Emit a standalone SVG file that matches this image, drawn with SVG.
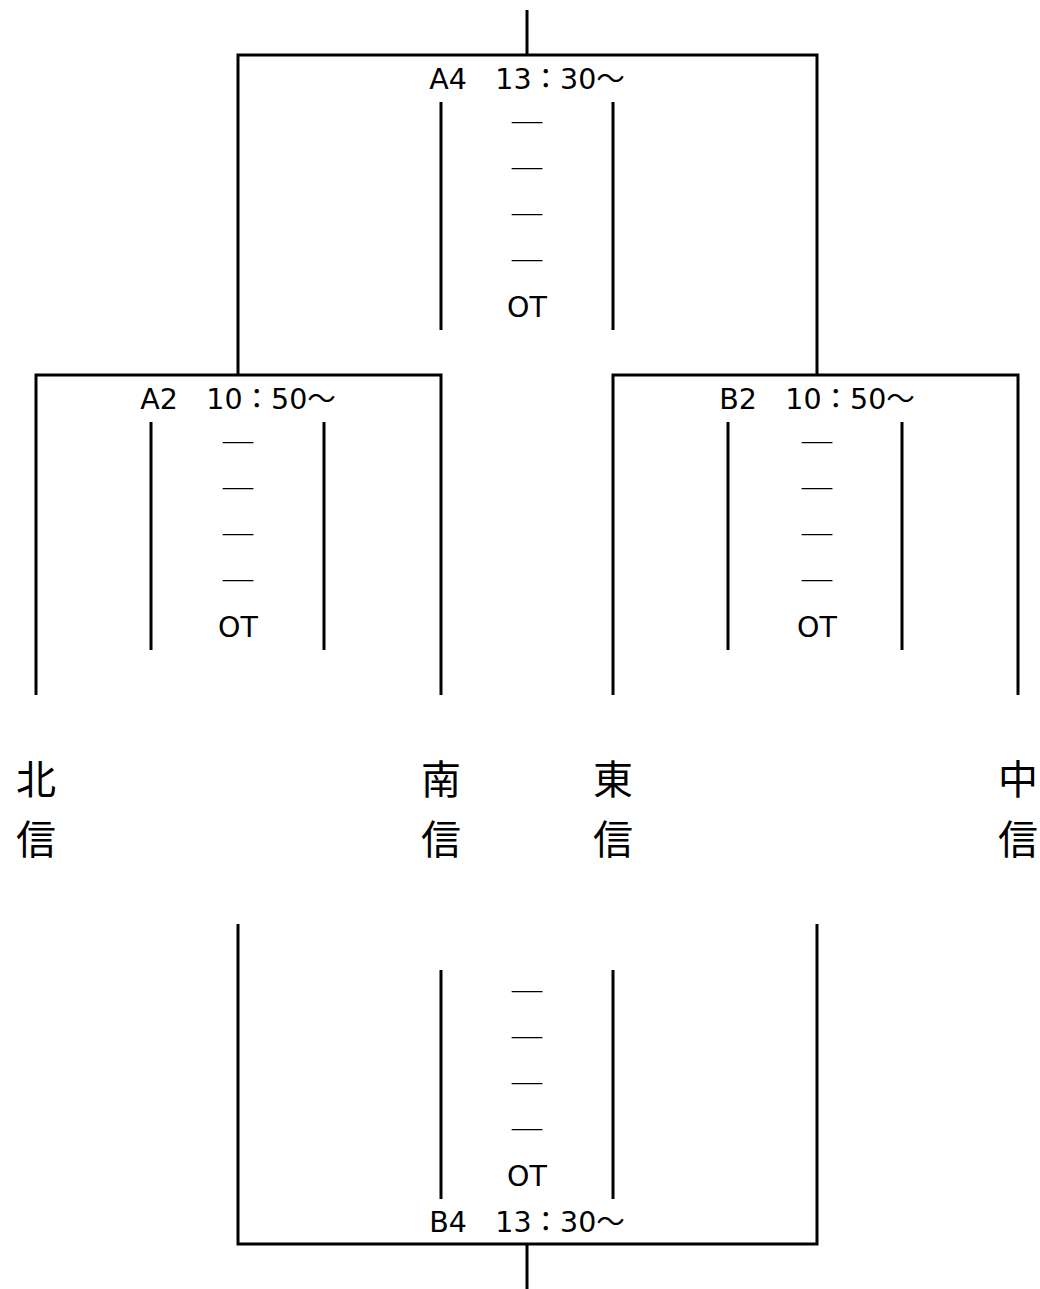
<svg xmlns="http://www.w3.org/2000/svg" width="1040" height="1289" viewBox="0 0 1040 1289">
<style>
.ln{stroke:#000;stroke-width:3;fill:none;stroke-linecap:butt}
.t{font-family:"DejaVu Sans","Noto Sans CJK JP",sans-serif;font-size:28.5px;fill:#000;text-anchor:middle}
.d{font-family:"Noto Sans CJK JP",sans-serif;font-size:28px;fill:#000;text-anchor:middle}
.lb{font-family:"Noto Sans CJK JP",sans-serif;font-size:40px;fill:#000;text-anchor:middle}
</style>
<rect width="1040" height="1289" fill="#fff"/>
<g id="connectors">
<path class="ln" d="M527,10V55"/>
<path class="ln" d="M238,375V55H817V375"/>
<path class="ln" d="M36,695V375H441V695"/>
<path class="ln" d="M613,695V375H1018V695"/>
<path class="ln" d="M238,924V1244H817V924"/>
<path class="ln" d="M527,1244V1289"/>
</g>
<g id="A4">
<path class="ln" d="M441,102V330M613,102V330"/>
<text class="t" x="527" y="89">A4　13：30～</text>
<text class="d" x="527" y="134" textLength="36" lengthAdjust="spacingAndGlyphs">―</text>
<text class="d" x="527" y="180" textLength="36" lengthAdjust="spacingAndGlyphs">―</text>
<text class="d" x="527" y="226" textLength="36" lengthAdjust="spacingAndGlyphs">―</text>
<text class="d" x="527" y="272" textLength="36" lengthAdjust="spacingAndGlyphs">―</text>
<text class="t" x="527" y="317">OT</text>
</g>
<g id="A2">
<path class="ln" d="M151,422V650M324,422V650"/>
<text class="t" x="238" y="409">A2　10：50～</text>
<text class="d" x="238" y="454" textLength="36" lengthAdjust="spacingAndGlyphs">―</text>
<text class="d" x="238" y="500" textLength="36" lengthAdjust="spacingAndGlyphs">―</text>
<text class="d" x="238" y="546" textLength="36" lengthAdjust="spacingAndGlyphs">―</text>
<text class="d" x="238" y="592" textLength="36" lengthAdjust="spacingAndGlyphs">―</text>
<text class="t" x="238" y="637">OT</text>
</g>
<g id="B2">
<path class="ln" d="M728,422V650M902,422V650"/>
<text class="t" x="817" y="409">B2　10：50～</text>
<text class="d" x="817" y="454" textLength="36" lengthAdjust="spacingAndGlyphs">―</text>
<text class="d" x="817" y="500" textLength="36" lengthAdjust="spacingAndGlyphs">―</text>
<text class="d" x="817" y="546" textLength="36" lengthAdjust="spacingAndGlyphs">―</text>
<text class="d" x="817" y="592" textLength="36" lengthAdjust="spacingAndGlyphs">―</text>
<text class="t" x="817" y="637">OT</text>
</g>
<g id="B4">
<path class="ln" d="M441,970V1199M613,970V1199"/>
<text class="d" x="527" y="1003" textLength="36" lengthAdjust="spacingAndGlyphs">―</text>
<text class="d" x="527" y="1049" textLength="36" lengthAdjust="spacingAndGlyphs">―</text>
<text class="d" x="527" y="1095" textLength="36" lengthAdjust="spacingAndGlyphs">―</text>
<text class="d" x="527" y="1141" textLength="36" lengthAdjust="spacingAndGlyphs">―</text>
<text class="t" x="527" y="1186">OT</text>
<text class="t" x="527" y="1232">B4　13：30～</text>
</g>
<g id="hokushin"><text class="lb" x="36" y="794">北</text><text class="lb" x="36" y="854">信</text></g>
<g id="nanshin"><text class="lb" x="441" y="794">南</text><text class="lb" x="441" y="854">信</text></g>
<g id="toshin"><text class="lb" x="613" y="794">東</text><text class="lb" x="613" y="854">信</text></g>
<g id="chushin"><text class="lb" x="1018" y="794">中</text><text class="lb" x="1018" y="854">信</text></g>
</svg>
